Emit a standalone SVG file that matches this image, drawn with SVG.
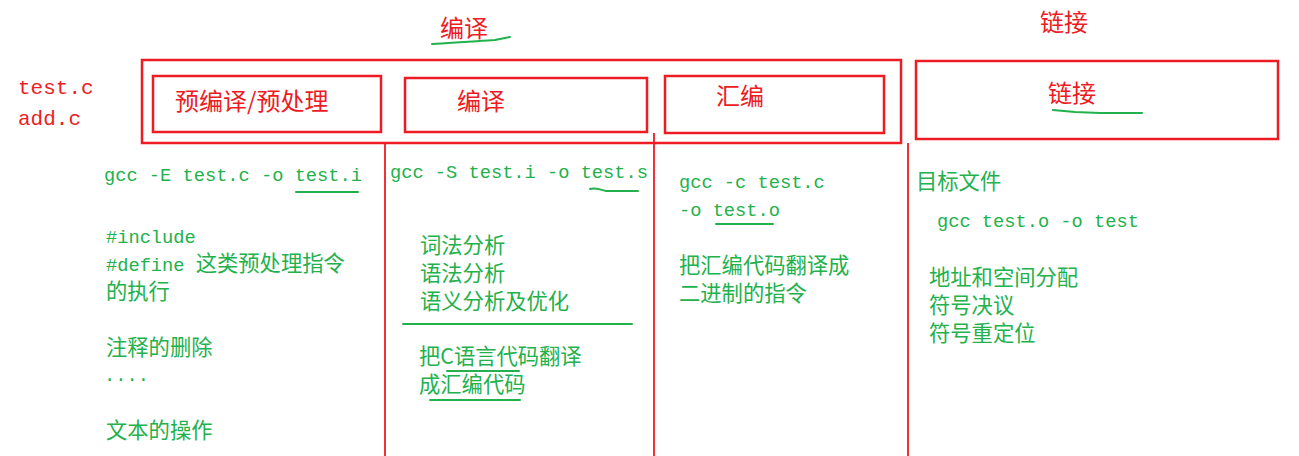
<svg xmlns="http://www.w3.org/2000/svg" width="1299" height="456" viewBox="0 0 1299 456">
<style>
.box{fill:none;stroke:#ed1c24;stroke-width:2.5}
.div{stroke:#ed1c24;stroke-width:1.8;fill:none}
.ul{stroke:#22b14c;stroke-width:2;fill:none;stroke-linecap:round}
.rt{fill:#ed1c24;font-family:"Noto Sans CJK SC","Noto Sans",sans-serif;font-size:24px}
.rm{fill:#ed1c24;font-family:"Liberation Mono",monospace;font-size:21px}
.gm{fill:#22b14c;font-family:"Liberation Mono",monospace;font-size:18.7px}
.gc{fill:#22b14c;font-family:"Noto Sans CJK SC","Noto Sans",sans-serif;font-size:21.3px}
</style>
<rect width="1299" height="456" fill="#ffffff"/>
<g id="titles">
<text class="rt" x="440" y="37">编译</text>
<path class="ul" d="M432,44 C460,42 480,41 495,40 L510,37"/>
<text class="rt" x="1040" y="31">链接</text>
</g>
<g id="inputs">
<text class="rm" x="18" y="94">test.c</text>
<text class="rm" x="18" y="125">add.c</text>
</g>
<g id="compile-stage">
<rect class="box" x="142" y="60" width="759" height="83"/>
</g>
<g id="preprocess">
<rect class="box" x="153" y="76" width="228" height="56"/>
<text class="rt" x="175" y="110">预编译/预处理</text>
</g>
<g id="compile">
<rect class="box" x="405" y="78" width="242" height="54"/>
<text class="rt" x="457" y="110">编译</text>
</g>
<g id="assemble">
<rect class="box" x="665" y="76" width="219" height="57"/>
<text class="rt" x="716" y="105">汇编</text>
</g>
<g id="link">
<rect class="box" x="916" y="61" width="362" height="78"/>
<text class="rt" x="1048" y="102">链接</text>
<path class="ul" d="M1053,110 L1075,112 L1100,113 L1142,113"/>
</g>
<g id="connectors">
<line class="div" x1="385" y1="143" x2="385" y2="456"/>
<line class="div" x1="654" y1="133" x2="654" y2="456"/>
<line class="div" x1="908" y1="143" x2="908" y2="456"/>
</g>
<g id="col-preprocess">
<text class="gm" x="104" y="181">gcc -E test.c -o test.i</text>
<line class="ul" x1="296" y1="192" x2="358" y2="192"/>
<text class="gm" x="106" y="243">#include</text>
<text x="106" y="271"><tspan class="gm">#define </tspan><tspan class="gc">这类预处理指令</tspan></text>
<text class="gc" x="106" y="299">的执行</text>
<text class="gc" x="106" y="355">注释的删除</text>
<text class="gm" x="104" y="381">....</text>
<text class="gc" x="106" y="438">文本的操作</text>
</g>
<g id="col-compile">
<text class="gm" x="390" y="178">gcc -S test.i -o test.s</text>
<path class="ul" d="M590,189 C596,187 600,190 606,191 L638,191"/>
<text class="gc" x="420" y="253">词法分析</text>
<text class="gc" x="420" y="281">语法分析</text>
<text class="gc" x="420" y="309">语义分析及优化</text>
<line class="ul" x1="403" y1="324" x2="632" y2="324"/>
<text class="gc" x="419" y="364">把C语言代码翻译</text>
<line class="ul" x1="447" y1="371" x2="519" y2="371"/>
<text class="gc" x="419" y="392">成汇编代码</text>
<line class="ul" x1="430" y1="400" x2="520" y2="400"/>
</g>
<g id="col-assemble">
<text class="gm" x="679" y="188">gcc -c test.c</text>
<text class="gm" x="679" y="216">-o test.o</text>
<line class="ul" x1="716" y1="224" x2="773" y2="224"/>
<text class="gc" x="679" y="273">把汇编代码翻译成</text>
<text class="gc" x="679" y="301">二进制的指令</text>
</g>
<g id="col-link">
<text class="gc" x="916" y="189">目标文件</text>
<text class="gm" x="937" y="227">gcc test.o -o test</text>
<text class="gc" x="929" y="285">地址和空间分配</text>
<text class="gc" x="929" y="313">符号决议</text>
<text class="gc" x="929" y="341">符号重定位</text>
</g>
</svg>
